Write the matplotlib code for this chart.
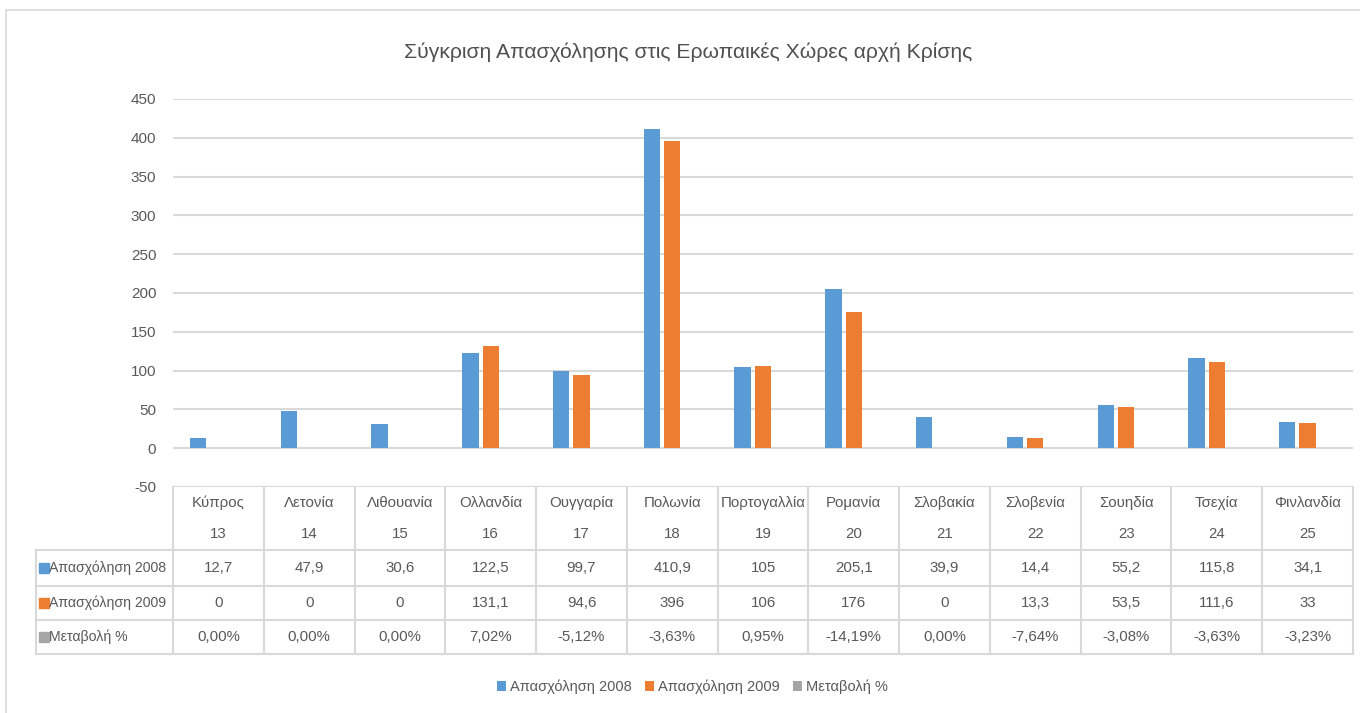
import numpy as np
import matplotlib.pyplot as plt
from matplotlib.patches import Patch, Rectangle

plt.rcParams['font.family'] = ['Liberation Sans', 'DejaVu Sans']
plt.rcParams['axes.unicode_minus'] = False

countries = ['Κύπρος', 'Λετονία', 'Λιθουανία', 'Ολλανδία', 'Ουγγαρία', 'Πολωνία',
             'Πορτογαλλία', 'Ρομανία', 'Σλοβακία', 'Σλοβενία', 'Σουηδία', 'Τσεχία',
             'Φινλανδία']
numbers = [13, 14, 15, 16, 17, 18, 19, 20, 21, 22, 23, 24, 25]
emp_2008 = [12.7, 47.9, 30.6, 122.5, 99.7, 410.9, 105, 205.1, 39.9, 14.4, 55.2, 115.8, 34.1]
emp_2009 = [0, 0, 0, 131.1, 94.6, 396, 106, 176, 0, 13.3, 53.5, 111.6, 33]
change_pct = [0.00, 0.00, 0.00, 7.02, -5.12, -3.63, 0.95, -14.19, 0.00, -7.64, -3.08, -3.63, -3.23]

series_names = ['Απασχόληση 2008', 'Απασχόληση 2009', 'Μεταβολή %']
colors = ['#5B9BD5', '#ED7D31', '#A5A5A5']
txt = '#595959'
grid = '#d9d9d9'

W, H = 1360, 713
fig = plt.figure(figsize=(W / 100, H / 100), dpi=100)
ax = fig.add_axes([173 / W, 1 - 487 / H, (1353 - 173) / W, 388 / H])

# chart frame
fig.patches.append(Rectangle((6 / W, -0.02), 1.02, 1 - 10 / H + 0.02, transform=fig.transFigure,
                             fill=False, edgecolor=grid, lw=1.2))

x = np.arange(len(countries))
values = [emp_2008, emp_2009, [c / 100 for c in change_pct]]
for i, vals in enumerate(values):
    ax.bar(x + (i - 1) * 0.224, vals, width=0.18, color=colors[i], lw=0, zorder=3)

ax.set_xlim(-0.5, len(countries) - 0.5)
ax.set_ylim(-50, 450)
ax.set_yticks(range(-50, 451, 50))
ax.set_xticks([])
ax.yaxis.grid(True, color=grid, lw=1.5, zorder=0)
ax.tick_params(axis='y', length=0, pad=12, labelsize=11, labelcolor=txt)
for s in ax.spines.values():
    s.set_visible(False)

fig.text(688 / W, 1 - 52 / H, 'Σύγκριση Απασχόλησης στις Ερωπαικές Χώρες αρχή Κρίσης',
         ha='center', va='center', fontsize=15.2, color='#505050')

# data table under the axis
colw = (1353 - 173) / len(countries)


def fy(px):
    return (487 - px) / 388.0


def xd(px):
    return -0.5 + (px - 173) / colw


tr = ax.get_xaxis_transform()
left = xd(36)
right = len(countries) - 0.5
for py in [550, 586, 620, 654]:
    ax.plot([left, right], [fy(py), fy(py)], transform=tr, color=grid, lw=1.5, clip_on=False)
for i in range(len(countries) + 1):
    ax.plot([i - 0.5, i - 0.5], [0, fy(654)], transform=tr, color=grid, lw=1.5, clip_on=False)
ax.plot([left, left], [fy(550), fy(654)], transform=tr, color=grid, lw=1.5, clip_on=False)

fs = 10.8
for i in range(len(countries)):
    ax.text(i, fy(503), countries[i], transform=tr, ha='center', va='center', fontsize=fs, color=txt)
    ax.text(i, fy(534), str(numbers[i]), transform=tr, ha='center', va='center', fontsize=fs, color=txt)
    ax.text(i, fy(568), f'{emp_2008[i]:g}'.replace('.', ','), transform=tr, ha='center', va='center',
            fontsize=fs, color=txt)
    ax.text(i, fy(603), f'{emp_2009[i]:g}'.replace('.', ','), transform=tr, ha='center', va='center',
            fontsize=fs, color=txt)
    ax.text(i, fy(637), f'{change_pct[i]:.2f}%'.replace('.', ','), transform=tr, ha='center',
            va='center', fontsize=fs, color=txt)

for j, (name, py) in enumerate(zip(series_names, [568, 603, 637])):
    ax.plot([xd(44)], [fy(py)], transform=tr, marker='s', ms=6.5, color=colors[j], clip_on=False)
    ax.text(xd(49), fy(py), name, transform=tr, ha='left', va='center', fontsize=10.2, color=txt)

handles = [Patch(facecolor=c) for c in colors]
fig.legend(handles, series_names, loc='center', bbox_to_anchor=(692 / W, 1 - 687 / H), ncol=3,
           frameon=False, fontsize=10.5, labelcolor=txt, handlelength=0.65, handleheight=0.65,
           handletextpad=0.25, columnspacing=0.9)

fig.savefig('out.png', dpi=100)
